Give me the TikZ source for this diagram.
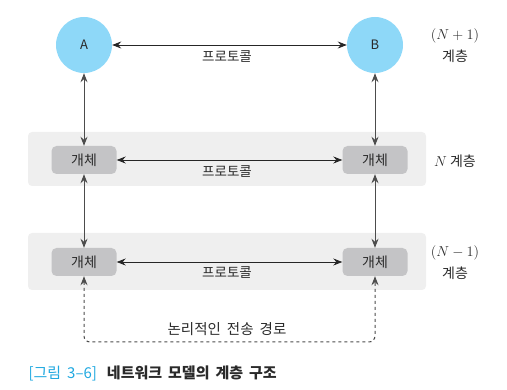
\documentclass[tikz,border=0pt]{standalone}
\usepackage{fontspec}
\setmainfont{Noto Sans CJK KR}
\usetikzlibrary{arrows.meta}
\definecolor{nodeblue}{HTML}{8ED8F8}
\definecolor{bandgray}{HTML}{EFEFEF}
\definecolor{boxgray}{HTML}{C4C4C6}
\definecolor{capblue}{HTML}{1FA8E0}
\definecolor{textgray}{HTML}{2A2A2A}
\newcommand\widewords{\spaceskip=6pt\relax}
\tikzset{
  band/.style={fill=bandgray,rounded corners=4pt},
  host/.style={circle,fill=nodeblue,minimum size=56pt,inner sep=0pt,font=\fontsize{13}{15}\selectfont},
  entity/.style={rectangle,rounded corners=5pt,fill=boxgray,minimum width=65pt,minimum height=28pt,inner sep=0pt,font=\fontsize{14}{16}\selectfont},
  vlink/.style={<->,draw=black!70,line width=1pt},
  hlink/.style={<->,draw=black!85,line width=0.8pt},
  layer/.style={align=center,font=\fontsize{14}{22}\selectfont},
}
\begin{document}
\begin{tikzpicture}[x=1pt,y=-1pt,>={Stealth[length=9pt,width=7pt,inset=3pt]},font=\fontsize{13.5}{16}\selectfont,text=textgray]
  \useasboundingbox (0,0) rectangle (507,390);
  % 계층 띠
  \fill[band] (28,132) rectangle (426,186);
  \fill[band] (28,233) rectangle (426,290);
  % (N+1) 계층
  \node[host] (a) at (84,45) {A};
  \node[host] (b) at (375,45) {B};
  \draw[hlink] (a) -- (b);
  \node (p1) at (227,57) {프로토콜};
  % N 계층
  \node[entity] (n1) at (84,160) {개체};
  \node[entity] (n2) at (375,160) {개체};
  \draw[hlink] (n1) -- (n2);
  \node (p2) at (227,172) {프로토콜};
  % N-1 계층
  \node[entity] (m1) at (84,262) {개체};
  \node[entity] (m2) at (375,262) {개체};
  \draw[hlink] (m1) -- (m2);
  \node (p3) at (227,273) {프로토콜};
  % 수직 연결
  \draw[vlink] (a) -- (n1);
  \draw[vlink] (b) -- (n2);
  \draw[vlink] (n1) -- (m1);
  \draw[vlink] (n2) -- (m2);
  % 논리적 경로
  \coordinate (low) at (227,342);
  \draw[vlink,dashed,rounded corners=6pt] (m1) |- (low) -| (m2);
  \node[font=\fontsize{14.5}{17}\selectfont] (path) at (227,329) {\widewords 논리적인 전송 경로};
  % 계층 이름
  \node[layer] (l1) at (455,46) {$(N+1)$\\계층};
  \node[layer] (l2) at (455,161) {$N$ 계층};
  \node[layer] (l3) at (455,263) {$(N-1)$\\계층};
  % 그림 제목
  \node[anchor=west,font=\fontsize{15}{17}\selectfont] (cap) at (25,373)
    {\widewords\textcolor{capblue}{[그림 3–6]}\hspace{10pt}\textbf{네트워크 모델의 계층 구조}};
\end{tikzpicture}
\end{document}
